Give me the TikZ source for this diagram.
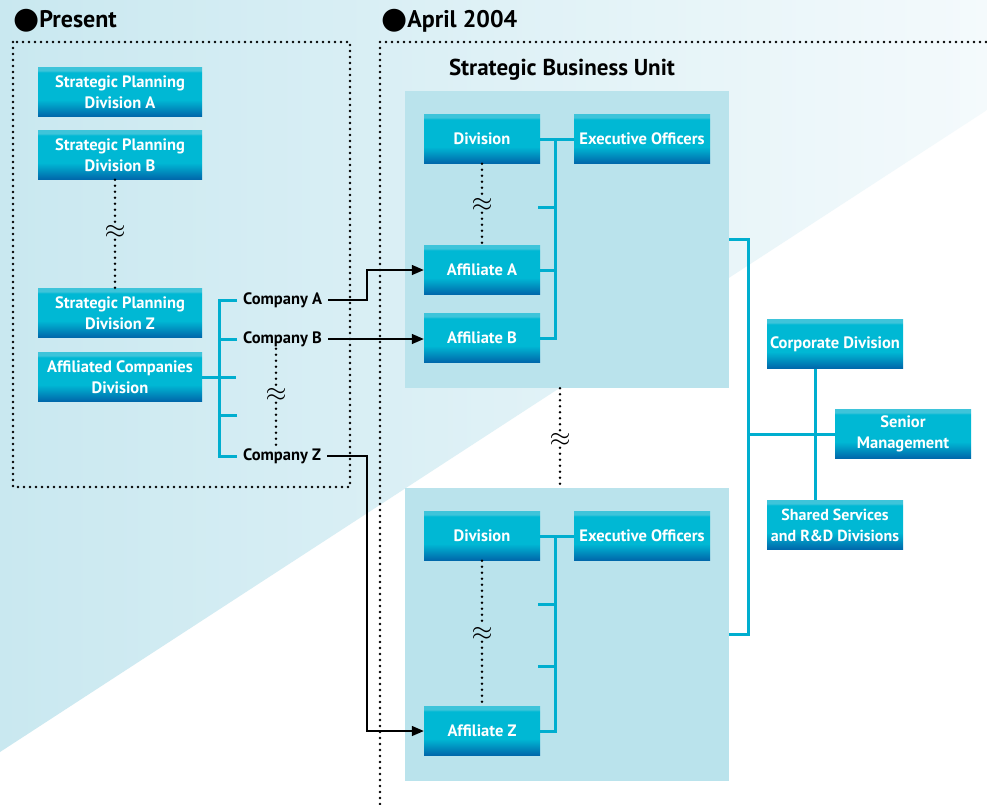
\documentclass[tikz,border=0pt]{standalone}
\usepackage{fontspec}
\setmainfont{PT Sans}
\newfontfamily\symfont{DejaVu Sans}
\usepackage{xcolor}
\usepackage{tikz}
\usetikzlibrary{positioning, arrows.meta, calc}
\definecolor{boxcyan}{HTML}{00B8D4}
\definecolor{boxtop}{HTML}{3EC4DA}
\definecolor{boxdark}{HTML}{0066AA}
\definecolor{linkblue}{HTML}{00AECF}
\definecolor{panelblue}{HTML}{BAE3EC}
\definecolor{bgleft}{HTML}{C9E8F0}
\definecolor{bgright}{HTML}{F4FAFC}
\pgfdeclareverticalshading{unitshade}{100bp}{color(0bp)=(boxdark); color(25bp)=(boxdark); color(42bp)=(boxcyan); color(70bp)=(boxcyan); color(72bp)=(boxtop); color(100bp)=(boxtop)}
\newcommand{\bigdot}{{\symfont\fontsize{30}{30}\selectfont\raisebox{-1pt}{●}}}
\tikzset{
  unit/.style={shading=unitshade, text=white, font=\bfseries\fontsize{16.5}{21}\selectfont, align=center, minimum height=49pt, inner sep=0pt},
  panel/.style={fill=panelblue, inner sep=0pt},
  heading/.style={anchor=west, font=\bfseries\fontsize{24}{26}\selectfont, inner sep=0pt},
  coname/.style={anchor=west, font=\bfseries\fontsize{16.5}{19}\selectfont, inner xsep=6pt, inner ysep=2pt},
  bluelink/.style={draw=linkblue, line width=3pt},
  dotline/.style={line width=2.8pt, dash pattern=on 0pt off 6pt, line cap=round},
  feed/.style={draw=black, line width=1.4pt, -{Triangle[length=12pt,width=10pt]}},
  wave/.style={inner sep=1pt}
}

\begin{document}
\begin{tikzpicture}[x=1pt, y=-1pt]
  \useasboundingbox (0,0) rectangle (987,804);
  \fill[white] (0,0) rectangle (987,804);
  \shade[left color=bgleft, right color=bgright] (0,0) -- (987,0) -- (987,110) -- (0,752) -- cycle;

  % headings and frames
  \node[heading] (present) at (13,21) {\bigdot Present};
  \node[heading] (april) at (381,21) {\bigdot April 2004};
  \draw[dotline] (13,42) rectangle (350,487);
  \draw[dotline] (380,804) -- (380,42) -- (987,42);

  % present
  \node[unit, minimum width=164pt] (spA) at (120,92) {Strategic Planning\\Division A};
  \node[unit, minimum width=164pt] (spB) at (120,155) {Strategic Planning\\Division B};
  \node[unit, minimum width=164pt] (spZ) at (120,313) {Strategic Planning\\Division Z};
  \node[unit, minimum width=164pt] (acd) at (120,377) {Affiliated Companies\\Division};
  \node[wave] (w1) at (115,232) {\scalebox{2.7}{$\approx$}};
  \draw[dotline] (spB.south -| w1) -- (w1.north);
  \draw[dotline] (w1.south) -- (spZ.north -| w1);

  \node[coname] (coA) at (237,300) {Company A};
  \node[coname] (coB) at (237,339) {Company B};
  \node[coname] (coZ) at (237,456) {Company Z};
  \node[wave] (w2) at (276,395) {\scalebox{2.7}{$\approx$}};
  \draw[dotline] (coB.south -| w2) -- (w2.north);
  \draw[dotline] (w2.south) -- (coZ.north -| w2);

  \coordinate (cj) at (219,377);
  \coordinate (cs) at (237,415);
  \draw[bluelink] (acd.east) -- ++(34,0);
  \draw[bluelink] (coA.west) -| (cj);
  \draw[bluelink] (coZ.west) -| (cj);
  \draw[bluelink] (coB.west) -- (coB.west -| cj);
  \draw[bluelink] (cs) -- (cs -| cj);

  % strategic business units
  \node[panel, minimum width=324pt, minimum height=297pt] (sbu1) at (567,239.5) {};
  \node[panel, minimum width=324pt, minimum height=293pt] (sbu2) at (567,634.5) {};
  \node[heading, anchor=center, font=\bfseries\fontsize{23}{25}\selectfont] (sbutitle) at (562,70) {Strategic Business Unit};

  \node[unit, minimum width=116pt] (div1) at (482,139) {Division};
  \node[unit, minimum width=136pt] (eo1) at (642,139) {Executive Officers};
  \node[unit, minimum width=116pt] (affA) at (482,270) {Affiliate A};
  \node[unit, minimum width=116pt] (affB) at (482,338) {Affiliate B};
  \node[wave] (w3) at (482,205) {\scalebox{2.7}{$\approx$}};
  \draw[dotline] (div1.south) -- (w3.north);
  \draw[dotline] (w3.south) -- (affA.north);
  \coordinate (vt1) at (555,139);
  \coordinate (fs1) at (538,207);
  \draw[bluelink] (div1.east) -- (eo1.west);
  \draw[bluelink] (affB.east) -| (vt1);
  \draw[bluelink] (affA.east) -- (affA.east -| vt1);
  \draw[bluelink] (fs1) -- (fs1 -| vt1);

  \node[wave] (w4) at (560,440) {\scalebox{2.7}{$\approx$}};
  \draw[dotline] (sbu1.south -| w4) -- (w4.north);
  \draw[dotline] (w4.south) -- (sbu2.north -| w4);

  \node[unit, minimum width=116pt] (div2) at (482,536) {Division};
  \node[unit, minimum width=136pt] (eo2) at (642,536) {Executive Officers};
  \node[unit, minimum width=116pt] (affZ) at (482,731) {Affiliate Z};
  \node[wave] (w5) at (482,634) {\scalebox{2.7}{$\approx$}};
  \draw[dotline] (div2.south) -- (w5.north);
  \draw[dotline] (w5.south) -- (affZ.north);
  \coordinate (vt2) at (555,536);
  \coordinate (fs2) at (538,604);
  \coordinate (fs3) at (538,666);
  \draw[bluelink] (div2.east) -- (eo2.west);
  \draw[bluelink] (affZ.east) -| (vt2);
  \draw[bluelink] (fs2) -- (fs2 -| vt2);
  \draw[bluelink] (fs3) -- (fs3 -| vt2);

  % transfer arrows
  \coordinate (bend) at (367,0);
  \draw[feed] (coA.east) -- (coA.east -| bend) |- (affA.west);
  \draw[feed] (coB.east) -- (coB.east -| affB.west);
  \draw[feed] (coZ.east) -- (coZ.east -| bend) |- (affZ.west);

  % corporate side
  \node[unit, minimum width=136pt] (corp) at (835,344) {Corporate Division};
  \node[unit, minimum width=136pt] (senior) at (903,434) {Senior\\Management};
  \node[unit, minimum width=136pt, font=\bfseries\fontsize{16}{21}\selectfont] (shared) at (835,525) {Shared Services\\and R\&D Divisions};
  \coordinate (rj) at (748,434);
  \draw[bluelink] (sbu1.east) -| (rj) |- (sbu2.east);
  \draw[bluelink] (rj) -- (senior.west);
  \draw[bluelink] ([xshift=-20pt]corp.south) -- ([xshift=-20pt]shared.north);
\end{tikzpicture}
\end{document}
